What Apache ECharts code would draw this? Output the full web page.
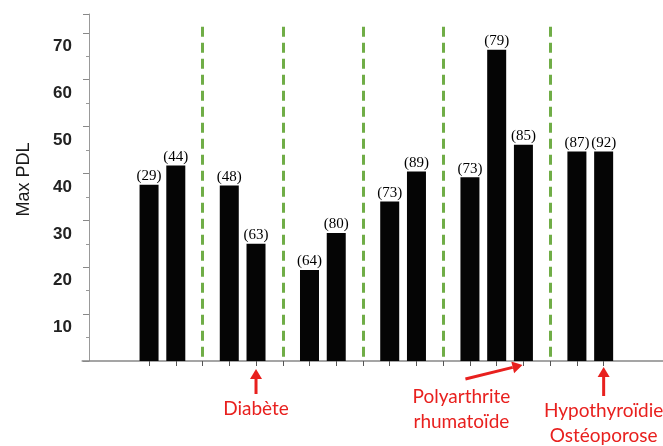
<!DOCTYPE html>
<html>
<head>
<meta charset="utf-8">
<script src="https://cdn.jsdelivr.net/npm/echarts@6/dist/echarts.min.js"></script>
<style>
  html, body { margin: 0; padding: 0; background: #fff; overflow: hidden; }
  /* un peu plus large que la fenêtre : l'axe des x continue jusqu'au bord */
  #main { width: 671px; height: 446px; }
</style>
</head>
<body>
<div id="main"></div>
<script>
// Max PDL, une liste par groupe
const groupValues = [
  [37.6, 41.7],
  [37.4, 25.0],
  [19.4, 27.3],
  [34.0, 40.4],
  [39.2, 66.4, 46.1],
  [44.7, 44.7]
];
// effectifs entre parenthèses au-dessus des barres
const groupCounts = [
  [29, 44],
  [48, 63],
  [64, 80],
  [73, 89],
  [73, 79, 85],
  [87, 92]
];
const yTicks = [10, 20, 30, 40, 50, 60, 70];
// annotations rouges : groupe, barre visée, texte
const notes = [
  { group: 1, bar: 1, text: 'Diabète' },
  { group: 4, bar: 2, text: 'Polyarthrite\nrhumatoïde' },
  { group: 5, bar: 1, text: 'Hypothyroïdie\nOstéoporose' }
];

const RED = '#e8201e';
const padLeft = 2, padRight = 2;
let categories = [], barData = [], gapSlots = [], slotOf = {};
for (let i = 0; i < padLeft; i++) { categories.push('p' + i); barData.push('-'); }
groupValues.forEach((vals, g) => {
  if (g > 0) {
    const k = 'gap' + g;
    categories.push(k); barData.push('-'); gapSlots.push(k);
  }
  vals.forEach((v, b) => {
    const k = 'g' + g + 'b' + b;
    slotOf[g + '-' + b] = k;
    categories.push(k);
    barData.push({ value: v, count: groupCounts[g][b] });
  });
});
for (let i = 0; i < padRight; i++) { categories.push('q' + i); barData.push('-'); }

const chart = echarts.init(document.getElementById('main'));
const option = {
  animation: false,
  backgroundColor: '#fff',
  grid: { left: 82.2, right: 0.5, top: 14, bottom: 85 },
  xAxis: {
    type: 'category',
    data: categories,
    axisLine: { lineStyle: { color: '#888', width: 1.5 } },
    axisTick: {
      show: true, alignWithLabel: true, length: 5,
      interval: (i) => i >= padLeft && i < categories.length - padRight,
      lineStyle: { color: '#555' }
    },
    axisLabel: { show: false }
  },
  yAxis: {
    type: 'value',
    min: 0, max: 74, interval: 10,
    offset: -6.8,
    name: 'Max PDL',
    nameLocation: 'middle',
    nameGap: 56,
    nameTextStyle: { fontFamily: 'Liberation Sans', fontSize: 18, color: '#1a1a1a', padding: [0, 0, 0, 16] },
    splitLine: { show: false },
    axisLine: { show: true, lineStyle: { color: '#999' } },
    axisTick: { show: true, length: 6, lineStyle: { color: '#888' } },
    minorTick: { show: true, splitNumber: 2, length: 3, lineStyle: { color: '#999' } },
    axisLabel: {
      // libellés décalés vers le bas comme sur la figure scannée
      formatter: (v) => yTicks.includes(v) ? '\n' + v : '',
      lineHeight: 27,
      fontFamily: 'Liberation Sans', fontWeight: 'bold', fontSize: 17,
      color: '#222', margin: 17
    }
  },
  series: [{
    type: 'bar',
    data: barData,
    barWidth: 19,
    itemStyle: { color: '#050505' },
    label: {
      show: true, position: 'top', distance: 1,
      formatter: (p) => '(' + p.data.count + ')',
      fontFamily: 'Liberation Serif', fontSize: 15, color: '#000'
    },
    markLine: {
      silent: true,
      symbol: ['none', 'none'],
      label: { show: false },
      lineStyle: { color: '#70ad47', width: 3, type: [10, 6] },
      data: gapSlots.map(k => [{ coord: [k, 71.3] }, { coord: [k, 0] }])
    }
  }]
};
chart.setOption(option);

// flèches et textes rouges accrochés aux barres visées
const layout = {
  'Diabète': { tx: 0, ty: 48, ax: [0, 33], ah: [0, 8] },
  'Polyarthrite\nrhumatoïde': { tx: -62, ty: 48.5, ax: [-58, 18], ah: [-1, 4] },
  'Hypothyroïdie\nOstéoporose': { tx: 0, ty: 62.5, ax: [0, 35], ah: [0, 6] }
};
function arrow(x1, y1, x2, y2) {
  const a = Math.atan2(y2 - y1, x2 - x1), L = 10, W = 6;
  const c = Math.cos(a), s = Math.sin(a);
  const bx = x2 - L * c, by = y2 - L * s;
  return [
    { type: 'line', shape: { x1: x1, y1: y1, x2: bx, y2: by }, style: { stroke: RED, lineWidth: 3 } },
    { type: 'polygon', shape: { points: [[x2, y2], [bx + W * s, by - W * c], [bx - W * s, by + W * c]] }, style: { fill: RED } }
  ];
}
const elements = [];
notes.forEach(n => {
  const p = chart.convertToPixel({ xAxisIndex: 0, yAxisIndex: 0 }, [slotOf[n.group + '-' + n.bar], 0]);
  const l = layout[n.text];
  elements.push({
    type: 'text', x: p[0] + l.tx, y: p[1] + l.ty,
    style: { text: n.text, fill: RED, fontFamily: 'Lato', fontSize: 19, lineHeight: 25, align: 'center', verticalAlign: 'middle' }
  });
  arrow(p[0] + l.ax[0], p[1] + l.ax[1], p[0] + l.ah[0], p[1] + l.ah[1]).forEach(e => elements.push(e));
});
chart.setOption({ graphic: elements });

window.addEventListener('resize', () => { chart.resize(); });
</script>
</body>
</html>
